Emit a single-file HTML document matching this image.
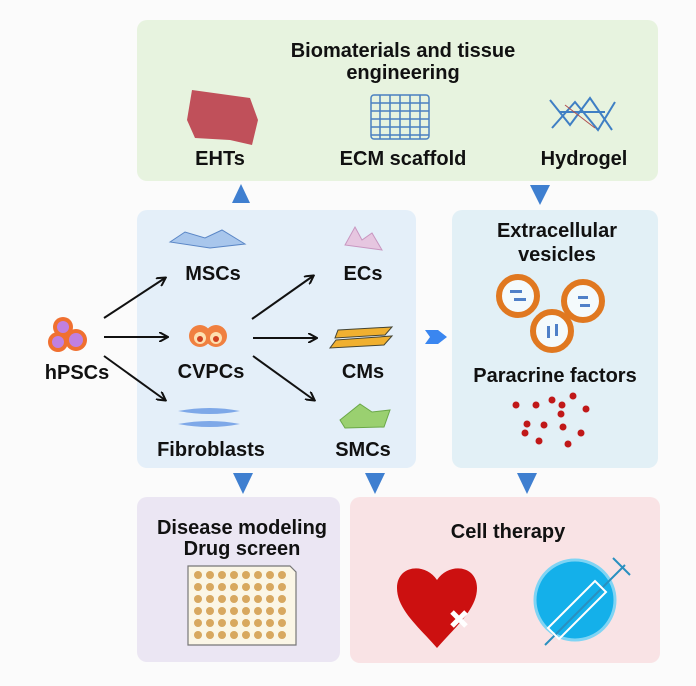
<!DOCTYPE html>
<html><head><style>
html,body{margin:0;padding:0;background:#fdfdfd;}
svg{display:block}
text{font-family:"Liberation Sans",Arial,sans-serif;font-weight:bold;fill:#111;text-anchor:middle;font-size:20px}
</style></head><body>
<svg width="696" height="686" viewBox="0 0 696 686" xmlns="http://www.w3.org/2000/svg">
<defs>
<marker id="ah" markerWidth="10" markerHeight="10" refX="8" refY="5" orient="auto" markerUnits="userSpaceOnUse"><path d="M0,0 L9,5 L0,10" fill="none" stroke="#111" stroke-width="2"/></marker>
</defs>
<rect x="0" y="0" width="696" height="686" fill="#fbfbfb"/>
<rect x="137" y="20" width="521" height="161" rx="10" fill="#e7f3df"/>
<rect x="137" y="210" width="279" height="258" rx="10" fill="#e4eff9"/>
<rect x="452" y="210" width="206" height="258" rx="10" fill="#e2f0f6"/>
<rect x="137" y="497" width="203" height="165" rx="10" fill="#ebe6f3"/>
<rect x="350" y="497" width="310" height="166" rx="10" fill="#f9e3e5"/>
<g fill="#3f7fd0">
<polygon points="232,203 250,203 241,184"/>
<polygon points="530,185 550,185 540,205"/>
<polygon points="233,473 253,473 243,494"/>
<polygon points="365,473 385,473 375,494"/>
<polygon points="517,473 537,473 527,494"/>
<polygon points="425,330 438,330 447,337 438,344 425,344 430,337" fill="#3a86f0"/>
</g>
<text x="403" y="57">Biomaterials and tissue</text>
<text x="403" y="79">engineering</text>
<path d="M192,90 L250,98 L258,120 L252,145 L230,140 L195,138 L187,120 Z" fill="#c0505a"/>
<g fill="none" stroke="#4a80c0" stroke-width="1.5">
<rect x="371" y="95" width="58" height="44" rx="3"/>
<path d="M380,95 V139 M390,95 V139 M400,95 V139 M410,95 V139 M420,95 V139 M371,103 H429 M371,111 H429 M371,119 H429 M371,127 H429 M371,135 H429"/>
</g>
<g fill="none" stroke="#3f7fc4" stroke-width="2">
<path d="M550,100 L570,125 L590,98 L612,130 M552,128 L575,102 L598,130 L615,102 M560,112 H605"/>
<path d="M565,105 L595,128" stroke="#b05050" stroke-width="1"/>
</g>
<text x="220" y="165">EHTs</text>
<text x="403" y="165">ECM scaffold</text>
<text x="584" y="165">Hydrogel</text>
<circle cx="63" cy="327" r="10" fill="#f07030"/>
<circle cx="58" cy="342" r="10" fill="#f07030"/>
<circle cx="76" cy="340" r="11" fill="#f07030"/>
<circle cx="63" cy="327" r="6" fill="#c080e0"/>
<circle cx="58" cy="342" r="6" fill="#c080e0"/>
<circle cx="76" cy="340" r="7" fill="#c080e0"/>
<text x="77" y="379">hPSCs</text>
<g stroke="#111" stroke-width="2" marker-end="url(#ah)">
<line x1="104" y1="318" x2="165" y2="278"/>
<line x1="104" y1="337" x2="167" y2="337"/>
<line x1="104" y1="356" x2="165" y2="400"/>
<line x1="252" y1="319" x2="313" y2="276"/>
<line x1="253" y1="338" x2="316" y2="338"/>
<line x1="253" y1="356" x2="314" y2="400"/>
</g>
<path d="M170,242 L185,232 L205,238 L222,230 L245,244 L210,248 Z" fill="#a8c6ec" stroke="#5a86c6"/>
<path d="M345,245 L355,227 L362,240 L372,233 L382,250 Z" fill="#e6c6e0" stroke="#c896c0"/>
<circle cx="200" cy="336" r="11" fill="#f08040"/><circle cx="216" cy="336" r="11" fill="#f08040"/>
<circle cx="200" cy="338" r="6" fill="#fde0b0"/><circle cx="216" cy="338" r="6" fill="#fde0b0"/>
<circle cx="200" cy="339" r="3" fill="#d04020"/><circle cx="216" cy="339" r="3" fill="#d04020"/>
<path d="M338,330 L392,327 L385,335 L335,338 Z M336,340 L392,336 L384,345 L330,348 Z" fill="#f0b030" stroke="#443" stroke-width="1"/>
<path d="M178,411 Q210,405 240,411 Q210,417 178,411 Z M178,424 Q210,418 240,424 Q210,430 178,424 Z" fill="#7ea8e8"/>
<path d="M340,420 L360,404 L372,412 L390,410 L384,427 L345,428 Z" fill="#9ad070" stroke="#6aa848"/>
<text x="213" y="280">MSCs</text>
<text x="363" y="280">ECs</text>
<text x="211" y="378">CVPCs</text>
<text x="363" y="378">CMs</text>
<text x="211" y="456">Fibroblasts</text>
<text x="363" y="456">SMCs</text>
<text x="557" y="237">Extracellular</text>
<text x="557" y="261">vesicles</text>
<g fill="#f4fafc" stroke="#e07820" stroke-width="6">
<circle cx="518" cy="296" r="19"/>
<circle cx="583" cy="301" r="19"/>
<circle cx="552" cy="331" r="19"/>
</g>
<g fill="#5080c8"><rect x="510" y="290" width="12" height="3"/><rect x="514" y="298" width="12" height="3"/><rect x="578" y="296" width="10" height="3"/><rect x="580" y="304" width="10" height="3"/><rect x="547" y="326" width="3" height="12"/><rect x="555" y="324" width="3" height="12"/></g>
<text x="555" y="382">Paracrine factors</text>
<g fill="#c01818">
<circle cx="516" cy="405" r="3.5"/><circle cx="536" cy="405" r="3.5"/><circle cx="552" cy="400" r="3.5"/><circle cx="573" cy="396" r="3.5"/><circle cx="586" cy="409" r="3.5"/><circle cx="562" cy="405" r="3.5"/><circle cx="561" cy="414" r="3.5"/><circle cx="527" cy="424" r="3.5"/><circle cx="544" cy="425" r="3.5"/><circle cx="563" cy="427" r="3.5"/><circle cx="581" cy="433" r="3.5"/><circle cx="525" cy="433" r="3.5"/><circle cx="539" cy="441" r="3.5"/><circle cx="568" cy="444" r="3.5"/>
</g>
<text x="242" y="534">Disease modeling</text>
<text x="242" y="555">Drug screen</text>
<path d="M188,566 H290 L296,572 V645 H188 Z" fill="#fbf6e6" stroke="#777" stroke-width="1.2"/>
<g fill="#d8a860">
<g id="row"><circle cx="198" cy="575" r="4"/><circle cx="210" cy="575" r="4"/><circle cx="222" cy="575" r="4"/><circle cx="234" cy="575" r="4"/><circle cx="246" cy="575" r="4"/><circle cx="258" cy="575" r="4"/><circle cx="270" cy="575" r="4"/><circle cx="282" cy="575" r="4"/></g>
<use href="#row" y="12"/><use href="#row" y="24"/><use href="#row" y="36"/><use href="#row" y="48"/><use href="#row" y="60"/>
</g>
<text x="508" y="538">Cell therapy</text>
<path d="M437,580 C425,562 397,565 397,588 C397,610 420,628 437,648 C454,628 477,610 477,588 C477,565 449,562 437,580 Z" fill="#cc1010"/>
<path d="M452,612 L466,626 M466,612 L452,626" stroke="#fff" stroke-width="5"/>
<circle cx="575" cy="600" r="40" fill="#14b0ea" stroke="#7fd4f4" stroke-width="3"/>
<path d="M545,645 L625,565 M613,558 L630,575" stroke="#2a90c0" stroke-width="2" fill="none"/>
<path d="M548,628 L595,581 L606,592 L559,639 Z" fill="none" stroke="#fff" stroke-width="2"/>
</svg>
</body></html>
